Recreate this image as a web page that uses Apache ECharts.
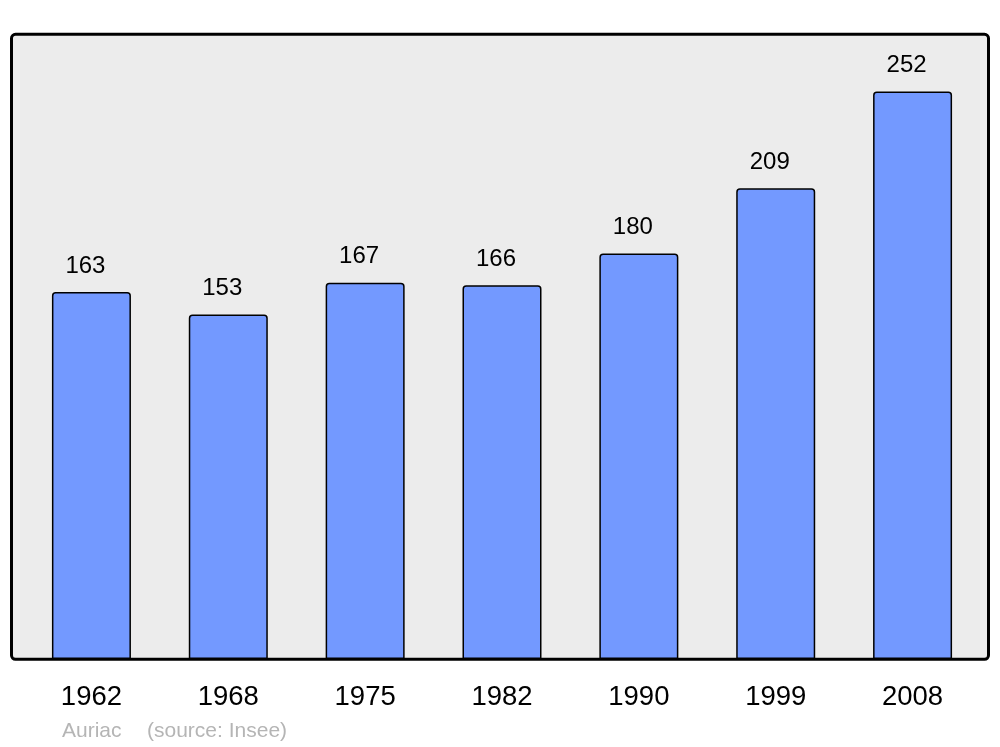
<!DOCTYPE html>
<html>
<head>
<meta charset="utf-8">
<script src="https://cdn.jsdelivr.net/npm/echarts@6/dist/echarts.min.js"></script>
<style>
html,body{margin:0;padding:0;background:#fff;}
#chart{width:1000px;height:747px;}
</style>
</head>
<body>
<div id="chart"></div>
<script>
const years = ['1962', '1968', '1975', '1982', '1990', '1999', '2008'];
const population = [163, 153, 167, 166, 180, 209, 252];
const place = 'Auriac';
const source = '(source: Insee)';

const chart = echarts.init(document.getElementById('chart'), null, {renderer: 'canvas'});
const FONT = '"Liberation Sans", Arial, sans-serif';
chart.setOption({
  animation: false,
  backgroundColor: '#ffffff',
  textStyle: {fontFamily: FONT},
  grid: {left: 23, right: 19, top: 34, bottom: 88},
  graphic: [
    {
      type: 'rect', z: -10, silent: true,
      shape: {x: 11.5, y: 34.3, width: 977, height: 625, r: 4},
      style: {fill: '#ececec', stroke: '#000000', lineWidth: 3}
    },
    {
      type: 'text', left: 62, top: 721,
      style: {text: place, fill: '#b5b5b5', font: '21px ' + FONT}
    },
    {
      type: 'text', left: 147, top: 721,
      style: {text: source, fill: '#b5b5b5', font: '21px ' + FONT}
    }
  ],
  xAxis: {
    type: 'category',
    data: years,
    axisLine: {show: false},
    axisTick: {show: false},
    axisLabel: {color: '#000', fontSize: 27.5, margin: 24, fontFamily: FONT}
  },
  yAxis: {
    type: 'value',
    min: 0,
    max: 277.5,
    show: false,
    splitLine: {show: false}
  },
  series: [{
    type: 'bar',
    data: population,
    barWidth: 79,
    itemStyle: {color: '#7399ff', borderColor: '#000000', borderWidth: 1.5, borderRadius: [3, 3, 0, 0]},
    label: {
      show: true, position: 'top', distance: 14, offset: [-6, 0],
      color: '#000', fontSize: 24, fontFamily: FONT
    }
  }]
});
</script>
</body>
</html>
